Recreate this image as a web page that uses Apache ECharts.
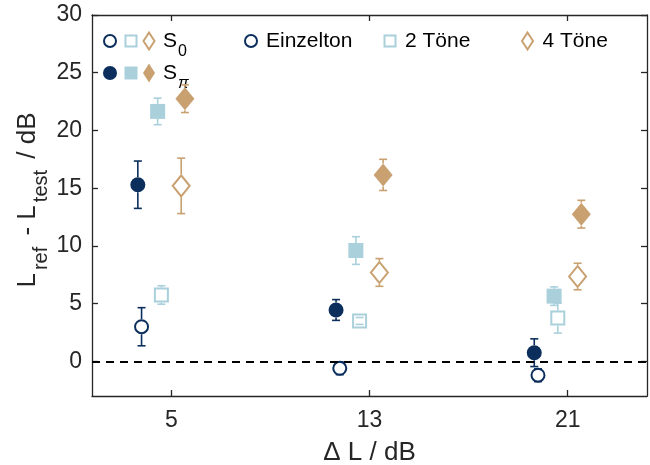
<!DOCTYPE html>
<html><head><meta charset="utf-8">
<script src="https://cdn.jsdelivr.net/npm/echarts@6/dist/echarts.min.js"></script>
<style>html,body{margin:0;padding:0;background:#fff}#c{width:650px;height:465px}</style>
</head><body><div id="c"></div>
<script>
// ---- data ----
const levelDiffs = [5, 13, 21];
const xTickLabels = ['5', '13', '21'];
const yTickValues = [0, 5, 10, 15, 20, 25, 30];
const stimulusNames = ['Einzelton', '2 Töne', '4 Töne'];
const conditionNames = ['S0', 'Sπ'];
const einzelS0 = [3.0, -0.6, -1.2];
const einzelS0Err = [1.65, 0.55, 0.55];
const einzelSpi = [15.3, 4.45, 0.75];
const einzelSpiErr = [2.05, 0.9, 1.2];
const zweiS0 = [5.75, 3.5, 3.75];
const zweiS0Err = [0.8, 0.3, 1.3];
const zweiSpi = [21.65, 9.6, 5.65];
const zweiSpiErr = [1.15, 1.2, 0.8];
const vierS0 = [15.2, 7.7, 7.35];
const vierS0Err = [2.4, 1.2, 1.15];
const vierSpi = [22.75, 16.15, 12.75];
const vierSpiErr = [1.2, 1.35, 1.2];

// ---- style ----
const NAVY = '#0b2e5c', LIGHT = '#a9d0db', TAN = '#c9a171', AX = '#262626';
const FONT = '"Liberation Sans", Arial, Helvetica, sans-serif';

const specs = [
  {name: 'Einzelton Sπ', vals: einzelSpi, err: einzelSpiErr, off: -1.35, color: NAVY, filled: true, symbol: 'circle', size: 15},
  {name: 'Einzelton S0', vals: einzelS0, err: einzelS0Err, off: -1.2, color: NAVY, filled: false, symbol: 'circle', size: 13},
  {name: '2 Töne Sπ', vals: zweiSpi, err: zweiSpiErr, off: -0.55, color: LIGHT, filled: true, symbol: 'rect', size: 15},
  {name: '2 Töne S0', vals: zweiS0, err: zweiS0Err, off: -0.4, color: LIGHT, filled: false, symbol: 'rect', size: 13},
  {name: '4 Töne S0', vals: vierS0, err: vierS0Err, off: 0.4, color: TAN, filled: false, symbol: 'diamond', size: [17, 21]},
  {name: '4 Töne Sπ', vals: vierSpi, err: vierSpiErr, off: 0.55, color: TAN, filled: true, symbol: 'diamond', size: [19, 23]}
];

const series = [];
// zero reference line
series.push({
  type: 'line', data: [], z: 1, silent: true,
  markLine: {symbol: 'none', silent: true, animation: false, label: {show: false},
    lineStyle: {color: '#000', width: 1.8, type: [8, 6]}, data: [{yAxis: 0}]}
});
specs.forEach(function (s) {
  const half = (Array.isArray(s.size) ? s.size[1] : s.size) / 2 + (s.filled ? 0 : 1);
  series.push({
    type: 'scatter', name: s.name, z: 3, silent: true, animation: false,
    symbol: s.symbol, symbolSize: s.size,
    itemStyle: {color: s.filled ? s.color : '#fff', borderColor: s.color, borderWidth: s.filled ? 0 : 2, opacity: 1},
    data: levelDiffs.map(function (g, i) { return [g + s.off, s.vals[i]]; })
  });
  series.push({
    type: 'custom', z: 4, silent: true, animation: false,
    data: levelDiffs.map(function (g, i) { return [g + s.off, s.vals[i], s.err[i]]; }),
    renderItem: function (params, api) {
      const x = api.value(0), y = api.value(1), e = api.value(2);
      const c = api.coord([x, y]);
      const t = api.coord([x, y + e]);
      const b = api.coord([x, y - e]);
      const cw = 4;
      const st = {stroke: s.color, lineWidth: 1.6, fill: null};
      const ch = [];
      if (t[1] < c[1] - half) ch.push({type: 'line', shape: {x1: c[0], y1: t[1], x2: c[0], y2: c[1] - half}, style: st});
      if (b[1] > c[1] + half) ch.push({type: 'line', shape: {x1: c[0], y1: c[1] + half, x2: c[0], y2: b[1]}, style: st});
      ch.push({type: 'line', shape: {x1: c[0] - cw, y1: t[1], x2: c[0] + cw, y2: t[1]}, style: st});
      ch.push({type: 'line', shape: {x1: c[0] - cw, y1: b[1], x2: c[0] + cw, y2: b[1]}, style: st});
      return {type: 'group', children: ch};
    }
  });
});

// ---- legend (graphic) ----
function marker(kind, filled, color, cx, cy) {
  const st = {fill: filled ? color : '#fff', stroke: color, lineWidth: filled ? 0 : 2};
  if (kind === 'circle') return {type: 'circle', shape: {cx: cx, cy: cy, r: filled ? 7 : 6}, style: st};
  if (kind === 'rect') { const h = filled ? 6.5 : 5.5; return {type: 'rect', shape: {x: cx - h, y: cy - h, width: 2 * h, height: 2 * h}, style: st}; }
  const w = filled ? 6 : 5.5, hh = filled ? 9.5 : 8.5;
  return {type: 'polygon', shape: {points: [[cx, cy - hh], [cx + w, cy], [cx, cy + hh], [cx - w, cy]]}, style: st};
}
const kinds = ['circle', 'rect', 'diamond'];
const cols = [NAVY, LIGHT, TAN];
const legendEls = [];
const rowY = [41, 73];
const condX = [110, 131, 149];
[false, true].forEach(function (filled, r) {
  kinds.forEach(function (k, i) { legendEls.push(marker(k, filled, cols[i], condX[i], rowY[r])); });
  const cname = conditionNames[r];
  legendEls.push({type: 'text', x: 163, y: rowY[r] - 10,
    style: {text: '{m|' + cname.charAt(0) + '}{' + (r ? 'si' : 's') + '|' + cname.slice(1) + '}',
      align: 'left', verticalAlign: 'top',
      rich: {
        m: {fontSize: 21, lineHeight: 21, fontFamily: FONT, fill: '#000', verticalAlign: 'top'},
        s: {fontSize: 16, lineHeight: 16, fontFamily: FONT, fill: '#000', verticalAlign: 'top', padding: [13, 0, 0, 1]},
        si: {fontSize: 16, lineHeight: 16, fontFamily: FONT, fontStyle: 'italic', fill: '#000', verticalAlign: 'top', padding: [13, 0, 0, 1]}
      }}});
});
const stimX = [251, 390, 527.5];
stimulusNames.forEach(function (n, i) {
  legendEls.push(marker(kinds[i], false, cols[i], stimX[i], rowY[0]));
  legendEls.push({type: 'text', x: stimX[i] + 15, y: rowY[0],
    style: {text: n, fontSize: 21, fontFamily: FONT, fill: '#000', align: 'left', verticalAlign: 'middle'}});
});
// y axis title with subscripts
legendEls.push({type: 'text', x: 15, y: 200, rotation: Math.PI / 2,
  style: {text: '{m|L}{s|ref}{m| - L}{s|test}{m| / dB}', align: 'center', verticalAlign: 'top',
    rich: {
      m: {fontSize: 26, lineHeight: 26, fontFamily: FONT, fill: AX, verticalAlign: 'top', padding: [0, 2, 0, 2]},
      s: {fontSize: 20, lineHeight: 20, fontFamily: FONT, fill: AX, verticalAlign: 'top', padding: [16, 2, 0, 1]}
    }}});

const xCommon = {type: 'value', min: 1.8, max: 24.2, splitLine: {show: false},
  axisLine: {show: true, onZero: false, lineStyle: {color: AX, width: 1.3}}};
const yCommon = {type: 'value', min: -3, max: 30, splitLine: {show: false},
  axisLine: {show: true, onZero: false, lineStyle: {color: AX, width: 1.3}}};

const option = {
  animation: false,
  backgroundColor: '#fff',
  grid: {left: 92, top: 15, right: 3, bottom: 69, containLabel: false, outerBoundsMode: 'none'},
  xAxis: [
    Object.assign({}, xCommon, {position: 'bottom',
      axisTick: {show: true, inside: true, length: 6, customValues: levelDiffs, lineStyle: {color: AX, width: 1.3}},
      axisLabel: {show: true, customValues: levelDiffs, margin: 13, fontSize: 23, fontFamily: FONT, color: AX,
        formatter: function (v) { const i = levelDiffs.indexOf(v); return i >= 0 ? xTickLabels[i] : ''; }},
      name: 'Δ L / dB', nameLocation: 'middle', nameGap: 44,
      nameTextStyle: {fontSize: 26, fontFamily: FONT, color: AX}}),
    Object.assign({}, xCommon, {position: 'top',
      axisTick: {show: true, inside: true, length: 6, customValues: levelDiffs, lineStyle: {color: AX, width: 1.3}},
      axisLabel: {show: false}})
  ],
  yAxis: [
    Object.assign({}, yCommon, {position: 'left',
      axisTick: {show: true, inside: true, length: 6, customValues: yTickValues, lineStyle: {color: AX, width: 1.3}},
      axisLabel: {show: true, customValues: yTickValues, margin: 10, fontSize: 23, fontFamily: FONT, color: AX}}),
    Object.assign({}, yCommon, {position: 'right',
      axisTick: {show: true, inside: true, length: 6, customValues: yTickValues, lineStyle: {color: AX, width: 1.3}},
      axisLabel: {show: false}})
  ],
  graphic: legendEls,
  series: series
};
const chart = echarts.init(document.getElementById('c'), null, {renderer: 'canvas'});
chart.setOption(option);
</script>
</body></html>
